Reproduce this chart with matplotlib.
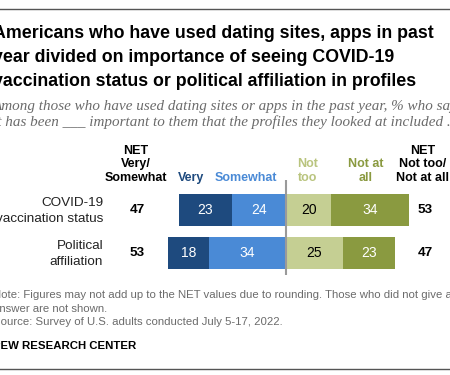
import matplotlib
matplotlib.use("Agg")
import matplotlib.pyplot as plt

# data
rows = ["COVID-19\nvaccination status", "Political\naffiliation"]
very = [23, 18]
somewhat = [24, 34]
not_too = [20, 25]
not_at_all = [34, 23]
net_important = [47, 53]
net_not = [53, 47]

W, H = 450, 375
fig = plt.figure(figsize=(W / 100, H / 100), dpi=100)
plt.rcParams["font.family"] = ["Liberation Sans", "DejaVu Sans"]

c_very = "#1e4a7e"
c_some = "#4a8ad6"
c_nottoo = "#c5cf93"
c_notall = "#8a9a40"


def fx(px):
    return px / W


def fy(py):
    return 1 - py / H


LEFT = -7

# top and bottom rules
fig.add_artist(plt.Line2D([0, 1], [fy(9), fy(9)], color="#555555", lw=1))
fig.add_artist(plt.Line2D([0, 1], [fy(369), fy(369)], color="#555555", lw=1))

# title
title = ("Americans who have used dating sites, apps in past\n"
         "year divided on importance of seeing COVID-19\n"
         "vaccination status or political affiliation in profiles")
fig.text(fx(LEFT), fy(25), title, ha="left", va="top", fontsize=12.8,
         fontweight="bold", color="black", linespacing=1.55)

subtitle = ("Among those who have used dating sites or apps in the past year, % who say\n"
            "it has been ___ important to them that the profiles they looked at included ...")
fig.text(fx(LEFT), fy(100), subtitle, ha="left", va="top", fontsize=10.9,
         fontstyle="italic", family=["Liberation Serif", "DejaVu Serif"],
         color="#6b6b6b", linespacing=1.22)

# bar axes: x=0 at pixel 286, 2.27 px per point
x0, scale = 286, 2.27
ax_l, ax_r = 160, 420
ax_t, ax_b = 180, 275
ax = fig.add_axes([fx(ax_l), fy(ax_b), (ax_r - ax_l) / W, (ax_b - ax_t) / H])
ax.set_xlim((ax_l - x0) / scale, (ax_r - x0) / scale)
row_gap = 43
ax.set_ylim(1 + (ax_b - 253) / row_gap, -(210 - ax_t) / row_gap)
ax.axis("off")

ypos = [0, 1]
bh = 32 / row_gap
for i in ypos:
    segs = [
        (-(very[i] + somewhat[i]), very[i], c_very, "white"),
        (-somewhat[i], somewhat[i], c_some, "white"),
        (0, not_too[i], c_nottoo, "black"),
        (not_too[i], not_at_all[i], c_notall, "white"),
    ]
    for left, val, col, tc in segs:
        ax.barh(i, val, left=left, height=bh, color=col, edgecolor="none")
        ax.text(left + val / 2, i, str(val), ha="center", va="center",
                fontsize=10, color=tc)

ax.axvline(0, color="#9a9a9a", lw=1.5)

# row labels and NET values
row_y = [210, 253]
for i, lab in enumerate(rows):
    fig.text(fx(103), fy(row_y[i] + 1), lab, ha="right", va="center", fontsize=9.7,
             color="#222222", linespacing=1.35)
    fig.text(fx(137), fy(row_y[i]), str(net_important[i]), ha="center",
             va="center", fontsize=9.7, fontweight="bold")
    fig.text(fx(425), fy(row_y[i]), str(net_not[i]), ha="center",
             va="center", fontsize=9.7, fontweight="bold")

# column headers
hdr_base = 184
fig.text(fx(136), fy(hdr_base), "NET\nVery/\nSomewhat", ha="center", va="bottom",
         fontsize=9, fontweight="bold", linespacing=1.17)
fig.text(fx(191), fy(hdr_base), "Very", ha="center", va="bottom",
         fontsize=9, fontweight="bold", color=c_very)
fig.text(fx(246), fy(hdr_base), "Somewhat", ha="center", va="bottom",
         fontsize=9, fontweight="bold", color=c_some)
fig.text(fx(308), fy(hdr_base), "Not\ntoo", ha="center", va="bottom",
         fontsize=9, fontweight="bold", color="#b9c47e", linespacing=1.17)
fig.text(fx(366), fy(hdr_base), "Not at\nall", ha="center", va="bottom",
         fontsize=9, fontweight="bold", color=c_notall, linespacing=1.17)
fig.text(fx(423), fy(hdr_base), "NET\nNot too/\nNot at all", ha="center",
         va="bottom", fontsize=9, fontweight="bold", linespacing=1.17)

# notes
note = ("Note: Figures may not add up to the NET values due to rounding. Those who did not give an\n"
        "answer are not shown.\n"
        "Source: Survey of U.S. adults conducted July 5-17, 2022.")
fig.text(fx(LEFT), fy(290), note, ha="left", va="top", fontsize=8.2,
         color="#6b6b6b", linespacing=1.45)
fig.text(fx(LEFT), fy(346), "PEW RESEARCH CENTER", ha="left", va="center",
         fontsize=8.2, fontweight="bold", color="black")

fig.savefig("out.png", dpi=100)
